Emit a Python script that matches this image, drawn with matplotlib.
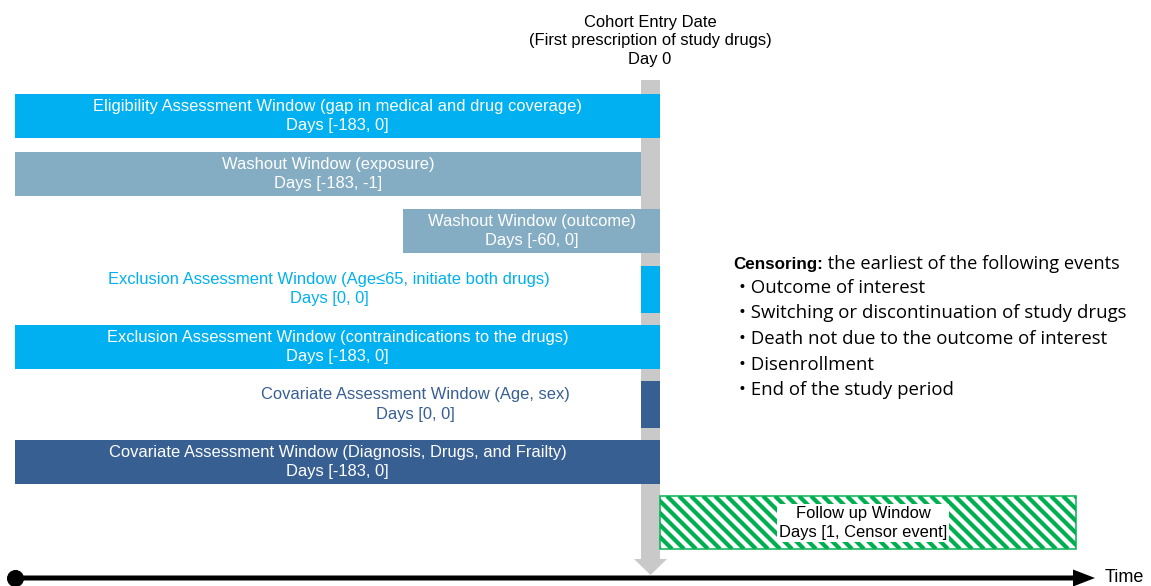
import numpy as np
import matplotlib.pyplot as plt
from matplotlib.patches import FancyArrow, Rectangle

# assessment windows (schematic, drawn top to bottom)
window_names = [
    "Eligibility Assessment Window (gap in medical and drug coverage)",
    "Washout Window (exposure)",
    "Washout Window (outcome)",
    "Exclusion Assessment Window (Age\u226465, initiate both drugs)",
    "Exclusion Assessment Window (contraindications to the drugs)",
    "Covariate Assessment Window (Age, sex)",
    "Covariate Assessment Window (Diagnosis, Drugs, and Frailty)",
]
window_days = ["Days [-183, 0]", "Days [-183, -1]", "Days [-60, 0]", "Days [0, 0]",
               "Days [-183, 0]", "Days [0, 0]", "Days [-183, 0]"]
# schematic extents of each window (day 0 sits at the cohort entry line)
bar_start = [15, 15, 403, 641, 15, 641, 15]
bar_end = [660, 641, 660, 660, 660, 660, 660]
bar_colors = ["#00B0F0", "#84ADC3", "#84ADC3", "#00B0F0", "#00B0F0", "#375F92", "#375F92"]

followup_name = "Follow up Window"
followup_days = "Days [1, Censor event]"
followup_start, followup_end = 660, 1076

censor_events = [
    "Outcome of interest",
    "Switching or discontinuation of study drugs",
    "Death not due to the outcome of interest",
    "Disenrollment",
    "End of the study period",
]

bar_font = "Liberation Sans"
list_font = "Open Sans"

# dpi 72 so that 1 pt == 1 px
fig = plt.figure(figsize=(1151 / 72, 586 / 72), dpi=72)
ax = fig.add_axes([0, 0, 1, 1])
ax.set_xlim(0, 1151)
ax.set_ylim(586, 0)
ax.axis('off')

# cohort entry date arrow
ax.add_patch(FancyArrow(650.5, 80, 0, 495, width=19, head_width=33, head_length=16,
                        length_includes_head=True, color="#C9C9C9", lw=0, zorder=1))
ax.text(650, 41, "Cohort Entry Date\n(First prescription of study drugs)\nDay 0",
        ha='center', va='center', fontsize=16.5, family=bar_font, linespacing=1.32)

# windows
row_y = [116 + 57.7 * i for i in range(len(window_names))]
outside_x = {3: 329, 5: 415}
for i, name in enumerate(window_names):
    w = bar_end[i] - bar_start[i]
    inside = i not in outside_x
    ax.barh(row_y[i], w, left=bar_start[i], height=44 if inside else 47,
            color=bar_colors[i], zorder=2)
    label = name + "\n" + window_days[i]
    if inside:
        ax.text((bar_start[i] + bar_end[i]) / 2, row_y[i], label, ha='center', va='center',
                color='white', fontsize=16.5, family=bar_font, linespacing=1.35, zorder=3)
    else:
        ax.text(outside_x[i], row_y[i], label, ha='center', va='center',
                color=bar_colors[i], fontsize=16.5, family=bar_font, linespacing=1.35, zorder=3)

# follow up window with diagonal green stripes
fy, fh = 522.5, 53
box = ax.barh(fy, followup_end - followup_start, left=followup_start, height=fh,
              color='white', edgecolor='none', zorder=2)[0]
for x0 in np.arange(followup_start - fh, followup_end + 12, 12):
    ln, = ax.plot([x0, x0 + fh], [fy - fh / 2, fy + fh / 2], color='#00B050', lw=4.2,
                  solid_capstyle='butt', zorder=2.5)
    ln.set_clip_path(box)
ax.add_patch(Rectangle((followup_start, fy - fh / 2), followup_end - followup_start, fh,
                       fill=False, edgecolor='#00B050', lw=1.5, zorder=3))
ax.text((followup_start + followup_end) / 2 - 5, 523, followup_name + "\n" + followup_days,
        ha='center', va='center', fontsize=16.5, family=bar_font, linespacing=1.3, zorder=4,
        bbox=dict(facecolor='white', edgecolor='none', pad=2))

# censoring list
head = ax.text(733, 264, "Censoring:", ha='left', va='center', fontsize=17,
               family=bar_font, fontweight='bold')
ax.annotate(" the earliest of the following events", xy=(1, 0.5), xycoords=head,
            ha='left', va='center', fontsize=18.2, family=list_font)
for k, ev in enumerate(censor_events):
    ax.text(739, 288 + 25.5 * k, "\u2022 " + ev, ha='left', va='center', fontsize=18.6,
            family=list_font)

# time axis
ax.add_patch(FancyArrow(15, 578, 1080, 0, width=5, head_width=17, head_length=22,
                        length_includes_head=True, color='black', lw=0, zorder=5))
ax.plot(15, 578, 'o', ms=16, color='black', zorder=6, clip_on=False)
ax.text(1105, 577, "Time", ha='left', va='center', fontsize=18, family=bar_font)

fig.savefig("out.png", dpi=72)
